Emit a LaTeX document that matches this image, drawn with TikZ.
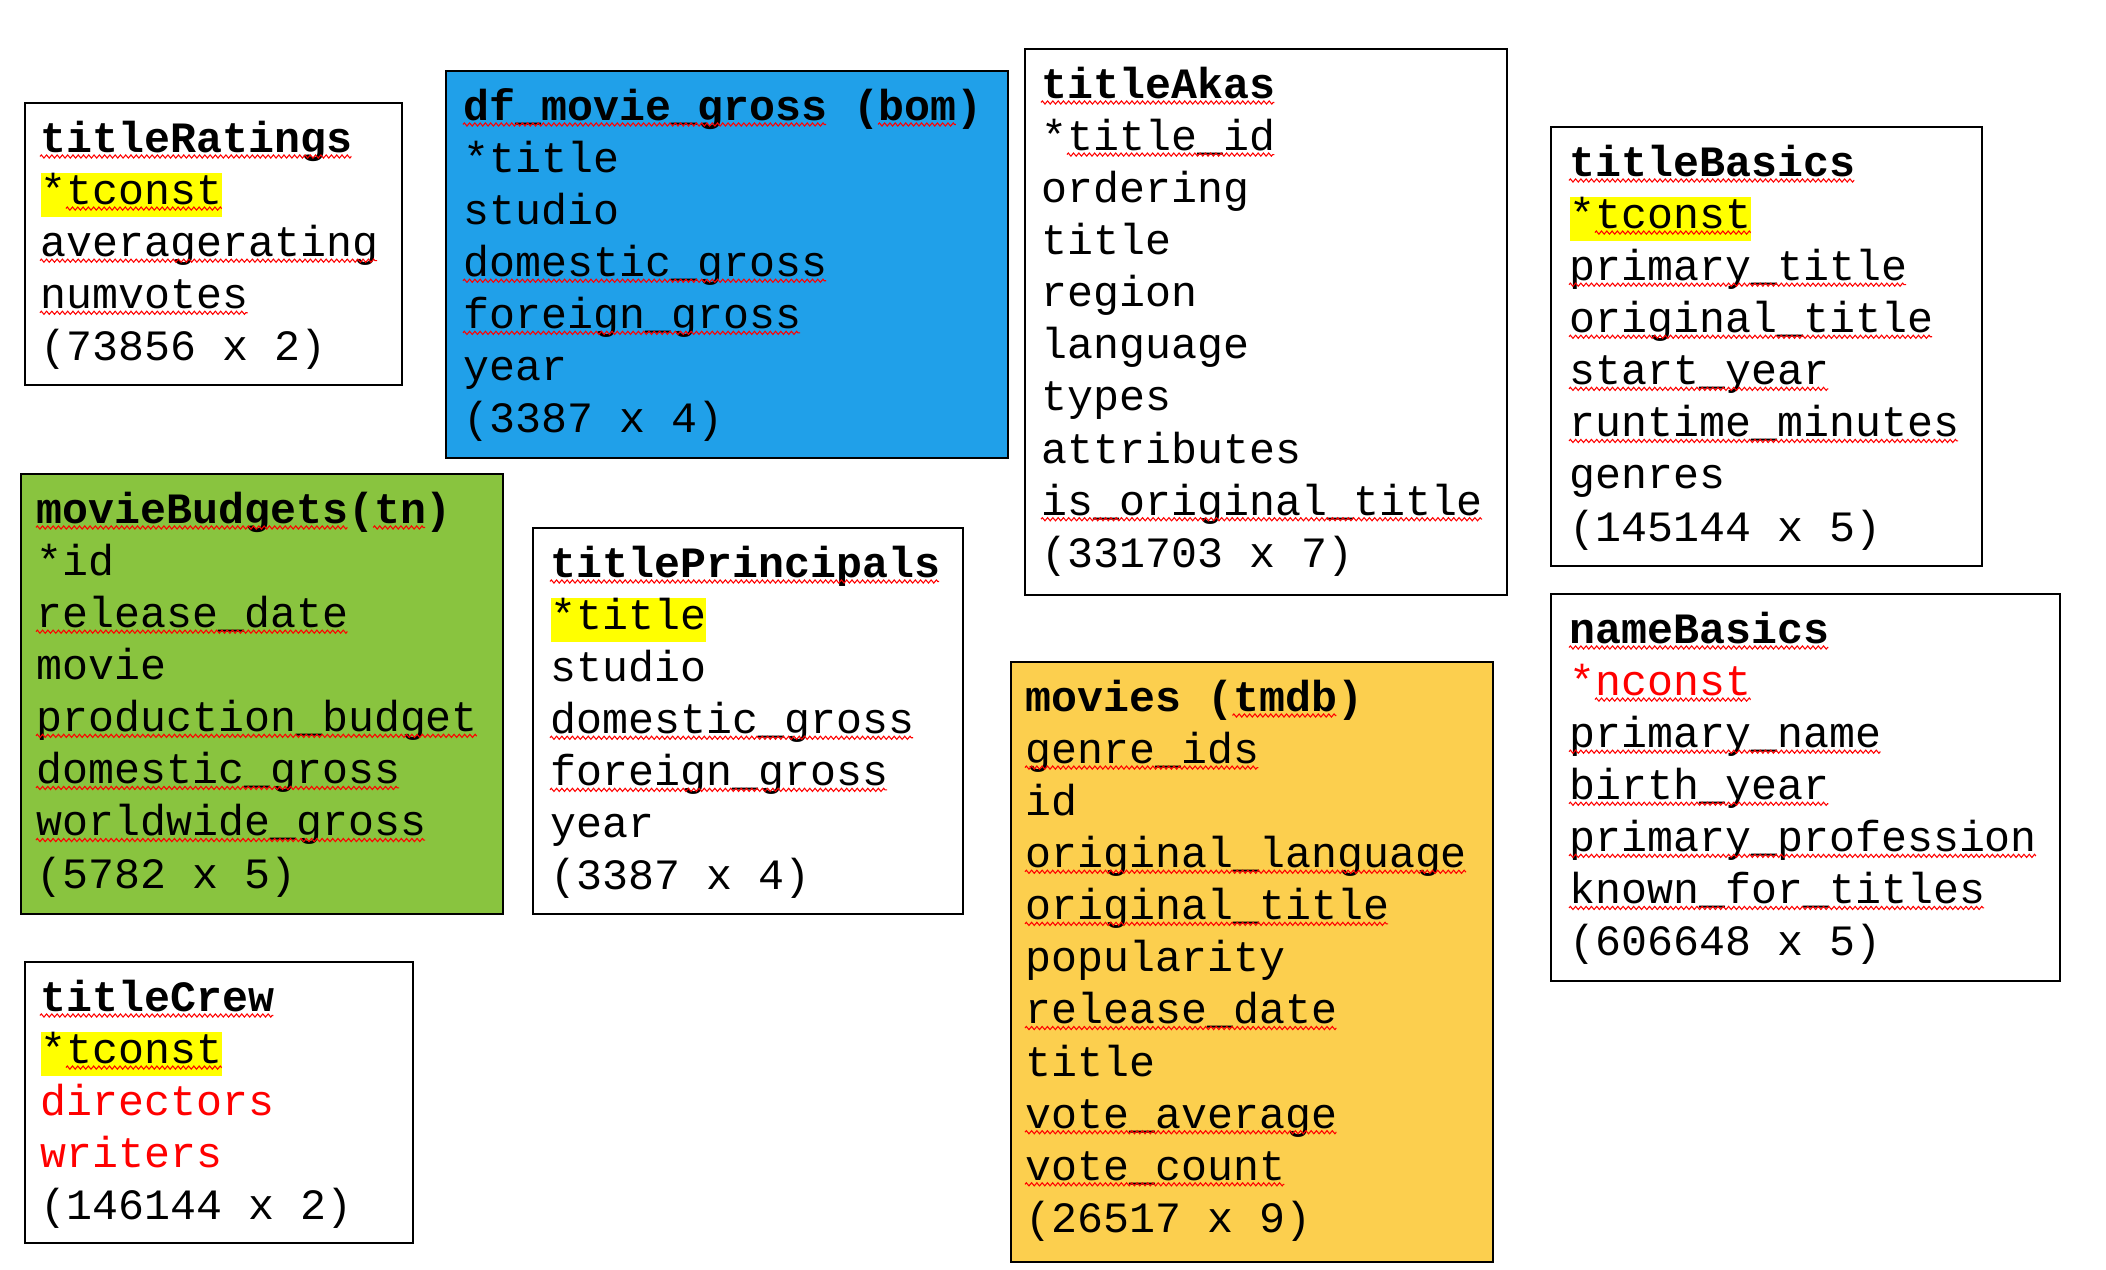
\documentclass[tikz,border=0pt]{standalone}
\usepackage{fontspec}
\setmonofont{Liberation Mono}
\usepackage{xcolor}
\usetikzlibrary{positioning,calc,decorations.pathmorphing}

\definecolor{bomblue}{RGB}{32,160,233}
\definecolor{tngreen}{RGB}{137,196,63}
\definecolor{tmdbgold}{RGB}{252,207,78}
\definecolor{keyyellow}{RGB}{255,255,0}
\definecolor{sqred}{RGB}{255,0,0}

% table name line (fixed height), yellow marker behind key fields
\newcommand{\tblhead}[1]{\rule{0pt}{12pt}\textbf{#1}}
\newcommand{\keymark}[1]{{\setlength{\fboxsep}{0pt}\colorbox{keyyellow}{\rule[-3.7pt]{0pt}{11.95pt}#1}}}

\begin{document}
\begin{tikzpicture}[x=0.01cm,y=-0.01cm,
  tbl/.style={draw=black,line width=0.6pt},
  fields/.style={anchor=north west,align=left,inner sep=0pt,
    font=\ttfamily\fontsize{12.3}{14.82}\selectfont},
  sq/.style={draw=sqred,line width=0.3pt,decorate,
    decoration={zigzag,amplitude=0.45pt,segment length=1.5pt}}]
  \useasboundingbox (0,0) rectangle (2106,1270);

  \draw[tbl] (25,103) rectangle (402,385);
  \draw[tbl,fill=bomblue] (446,71) rectangle (1008,458);
  \draw[tbl] (1025,49) rectangle (1507,595);
  \draw[tbl] (1551,127) rectangle (1982,566);
  \draw[tbl,fill=tngreen] (21,474) rectangle (503,914);
  \draw[tbl] (533,528) rectangle (963,914);
  \draw[tbl,fill=tmdbgold] (1011,662) rectangle (1493,1262);
  \draw[tbl] (1551,594) rectangle (2060,981);
  \draw[tbl] (25,962) rectangle (413,1243);

  \node[fields] (ratings) at (40,109.3) {\tblhead{titleRatings}\\ \keymark{*tconst}\\ averagerating\\ numvotes\\ (73856 x 2)};
  \node[fields] (bom) at (463,77.3) {\tblhead{df\_movie\_gross (bom)}\\ *title\\ studio\\ domestic\_gross\\ foreign\_gross\\ year\\ (3387 x 4)};
  \node[fields] (akas) at (1041,55.3) {\tblhead{titleAkas}\\ *title\_id\\ ordering\\ title\\ region\\ language\\ types\\ attributes\\ is\_original\_title\\ (331703 x 7)};
  \node[fields] (basics) at (1569,133.3) {\tblhead{titleBasics}\\ \keymark{*tconst}\\ primary\_title\\ original\_title\\ start\_year\\ runtime\_minutes\\ genres\\ (145144 x 5)};
  \node[fields] (budgets) at (36,480.3) {\tblhead{movieBudgets(tn)}\\ *id\\ release\_date\\ movie\\ production\_budget\\ domestic\_gross\\ worldwide\_gross\\ (5782 x 5)};
  \node[fields] (principals) at (550,534.3) {\tblhead{titlePrincipals}\\ \keymark{*title}\\ studio\\ domestic\_gross\\ foreign\_gross\\ year\\ (3387 x 4)};
  \node[fields] (movies) at (1025,668.3) {\tblhead{movies (tmdb)}\\ genre\_ids\\ id\\ original\_language\\ original\_title\\ popularity\\ release\_date\\ title\\ vote\_average\\ vote\_count\\ (26517 x 9)};
  \node[fields] (names) at (1569,600.3) {\tblhead{nameBasics}\\ \textcolor{sqred}{*nconst}\\ primary\_name\\ birth\_year\\ primary\_profession\\ known\_for\_titles\\ (606648 x 5)};
  \node[fields] (crew) at (40,968.3) {\tblhead{titleCrew}\\ \keymark{*tconst}\\ \textcolor{sqred}{directors}\\ \textcolor{sqred}{writers}\\ (146144 x 2)};

  % spell-check squiggles: line/first char/length
  \foreach \tab/\marks in {ratings/{0/0/12,1/1/6,2/0/13,3/0/8},
      bom/{0/0/14,0/16/3,3/0/14,4/0/13},
      akas/{0/0/9,1/1/8,8/0/17},
      basics/{0/0/11,1/1/6,2/0/13,3/0/14,4/0/10,5/0/15},
      budgets/{0/0/12,0/13/2,2/0/12,4/0/17,5/0/14,6/0/15},
      principals/{0/0/15,3/0/14,4/0/13},
      movies/{0/8/4,1/0/9,3/0/17,4/0/14,6/0/12,8/0/12,9/0/10},
      names/{0/0/10,1/1/6,2/0/12,3/0/10,4/0/18,5/0/16},
      crew/{0/0/9,1/1/6}}
    \foreach \r/\s/\n in \marks
      \draw[sq] ($(\tab.north west)+(\s*25.94,\r*52.09+47.2)$) -- ++(\n*25.94,0);
\end{tikzpicture}
\end{document}
